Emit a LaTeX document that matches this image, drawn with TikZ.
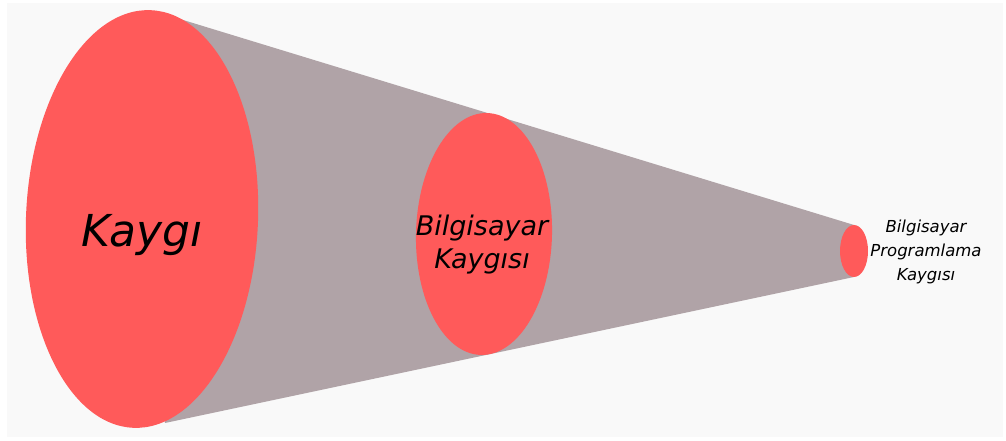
\documentclass[tikz,border=0pt]{standalone}
\usepackage{fontspec}
\setmainfont{DejaVu Sans}
\usetikzlibrary{shapes.geometric}
\definecolor{conered}{HTML}{FF5A5A}
\definecolor{conegray}{HTML}{B0A3A7}
\definecolor{panel}{HTML}{F9F9F9}
\tikzset{
  disc/.style={ellipse, fill=conered, draw=none, inner sep=0pt},
  lbl/.style={text=black, align=center, inner sep=0pt}
}
\begin{document}
\begin{tikzpicture}[x=1pt,y=1pt]
\useasboundingbox (0,0) rectangle (1006,441);
\fill[white] (0,0) rectangle (1006,441);
\fill[panel] (7,4) rectangle (1003,438);
% cone body
\coordinate (ct) at (170,425);
\coordinate (cb) at (165,18);
\coordinate (st) at (854,216);
\coordinate (sb) at (854,164);
\fill[conegray] (ct) -- (st) -- (sb) -- (cb) -- (142,222) -- cycle;
% discs
\node[disc, minimum width=232pt, minimum height=418pt, rotate=-2.4] (big) at (142,222) {};
\node[disc, minimum width=136pt, minimum height=242pt, rotate=-1.5] (mid) at (484,207) {};
\node[disc, minimum width=28pt, minimum height=52pt] (small) at (854,190) {};
% labels
\node[lbl, anchor=base, font=\itshape\fontsize{44}{50}\selectfont] (t1) at (142,194) {Kaygı};
\node[lbl, font=\itshape\fontsize{27}{33}\selectfont] (t2) at (482,196.5) {Bilgisayar\\Kaygısı};
\node[lbl, font=\itshape\fontsize{16.5}{24}\selectfont] (t3) at (926,189.2) {Bilgisayar\\Programlama\\Kaygısı};
\end{tikzpicture}
\end{document}
